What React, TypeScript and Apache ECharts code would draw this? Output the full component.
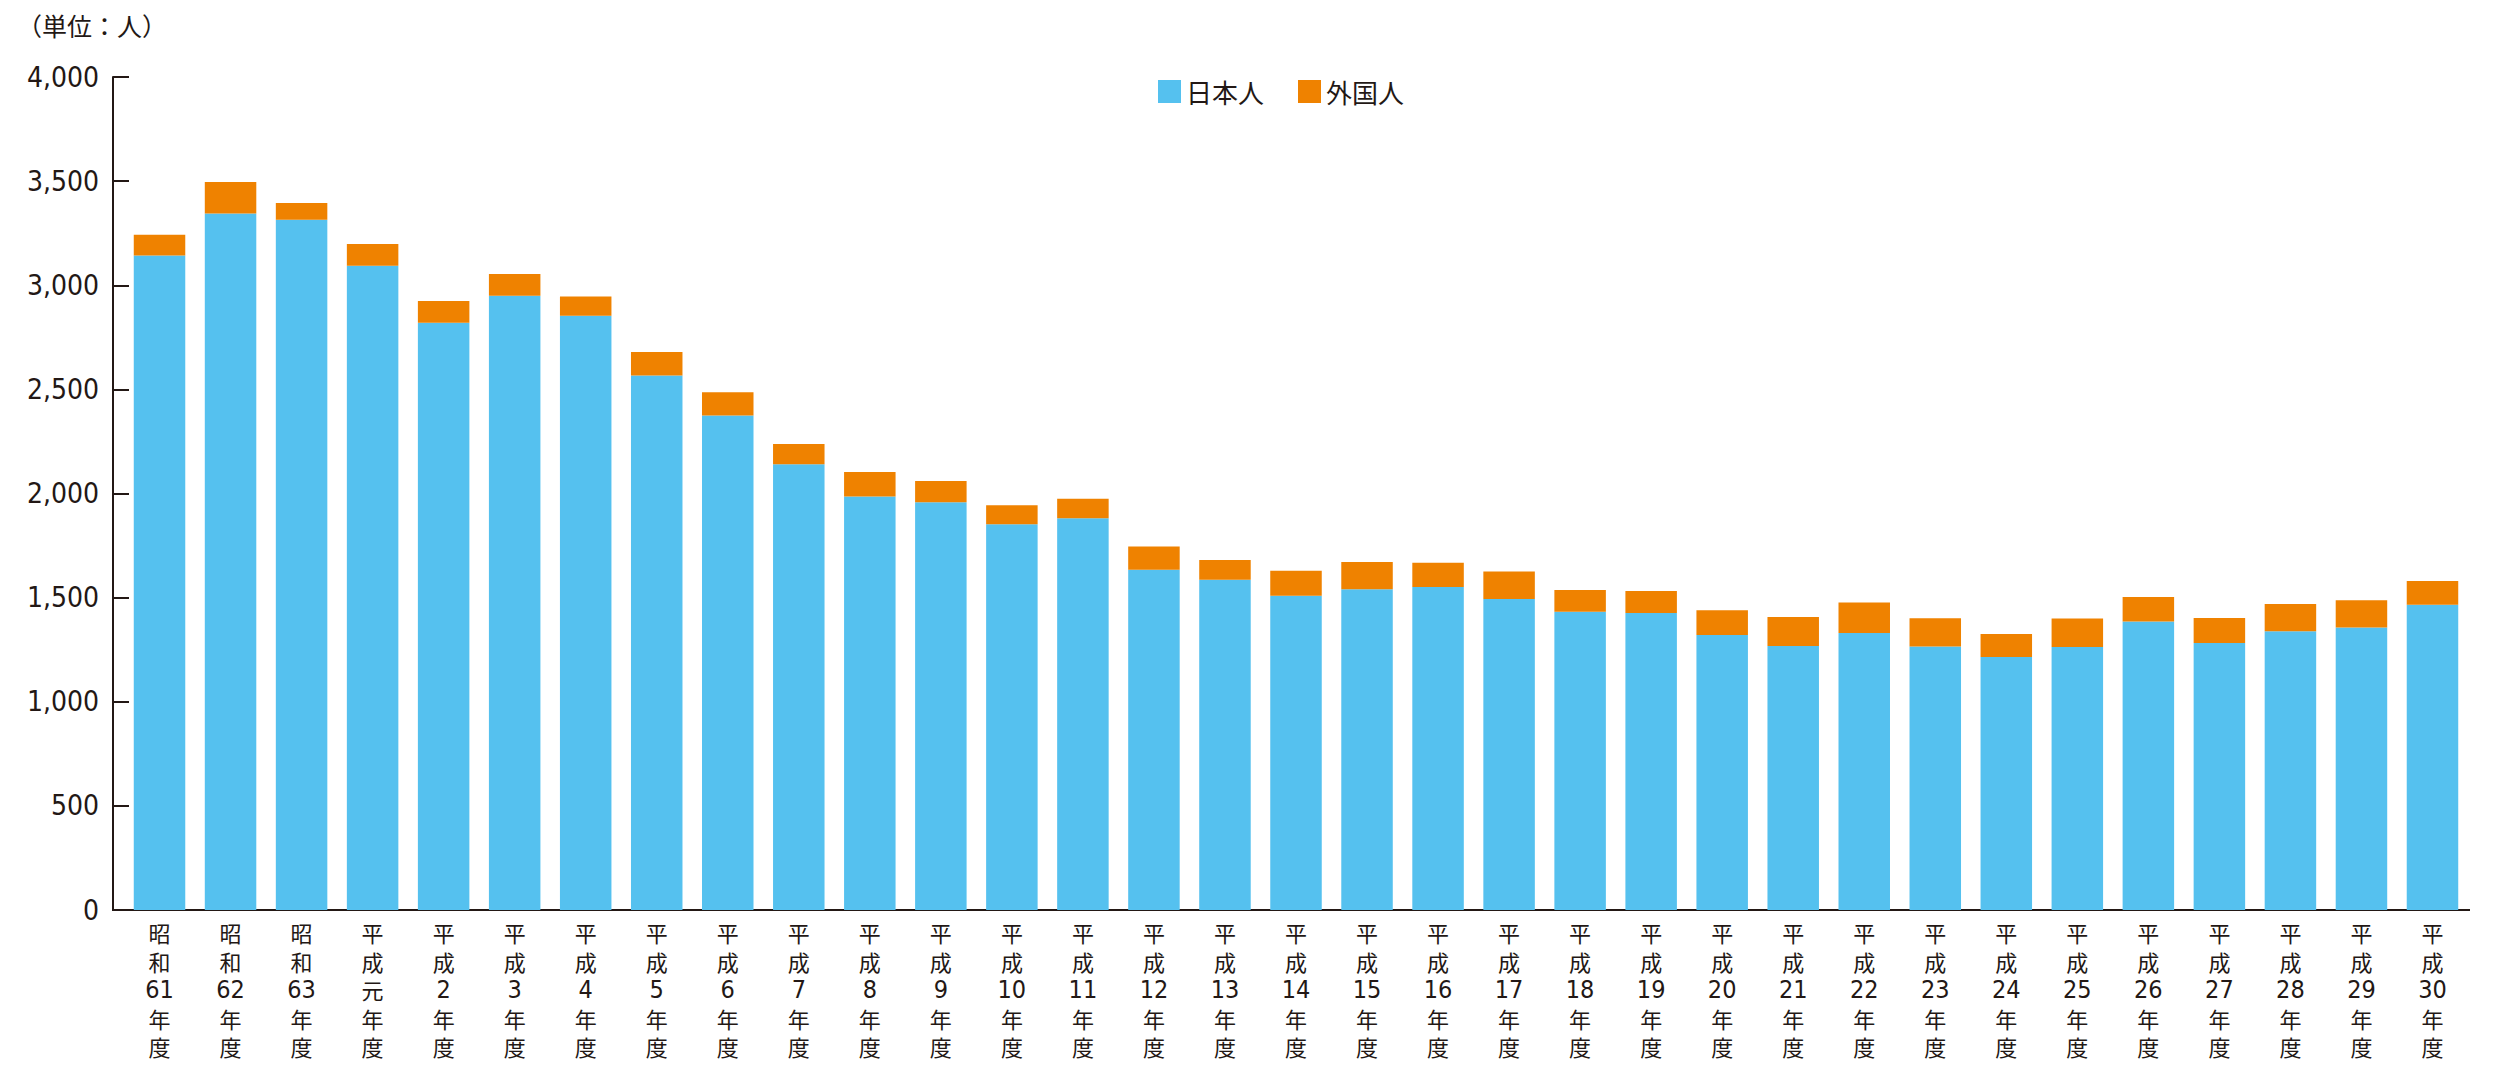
import React, { useEffect, useRef } from "react";
import * as echarts from "echarts";

const categories = [
  "昭和61年度", "昭和62年度", "昭和63年度", "平成元年度", "平成2年度", "平成3年度",
  "平成4年度", "平成5年度", "平成6年度", "平成7年度", "平成8年度", "平成9年度",
  "平成10年度", "平成11年度", "平成12年度", "平成13年度", "平成14年度", "平成15年度",
  "平成16年度", "平成17年度", "平成18年度", "平成19年度", "平成20年度", "平成21年度",
  "平成22年度", "平成23年度", "平成24年度", "平成25年度", "平成26年度", "平成27年度",
  "平成28年度", "平成29年度", "平成30年度",
];

const japanese = [
  3143, 3344, 3315, 3094, 2820, 2950, 2854, 2567, 2374, 2140, 1986, 1958,
  1852, 1881, 1634, 1586, 1509, 1540, 1551, 1493, 1432, 1426, 1321, 1268,
  1330, 1265, 1215, 1263, 1385, 1282, 1338, 1356, 1466,
];

const foreigners = [
  100, 152, 80, 104, 104, 104, 92, 112, 112, 98, 117, 102,
  91, 94, 112, 95, 120, 131, 117, 133, 105, 106, 118, 139,
  147, 136, 110, 137, 118, 120, 131, 131, 114,
];

const seriesNames = ["日本人", "外国人"];
const unitLabel = "（単位：人）";

const TEXT = "#231815";
const BLUE = "#55C1EF";
const ORANGE = "#EF8200";
const CJK = "'Noto Sans CJK JP', 'Noto Sans', sans-serif";
const NARROW = "'Liberation Sans Narrow', 'DejaVu Sans Condensed', 'Noto Sans CJK JP', sans-serif";

export default function App() {
  const ref = useRef<HTMLDivElement>(null);

  useEffect(() => {
    if (!ref.current) return;
    const chart = echarts.init(ref.current, null, { renderer: "svg" });
    chart.setOption({
      animation: false,
      backgroundColor: "#ffffff",
      grid: { left: 124, right: 32, top: 77, bottom: 159, containLabel: false },
      legend: {
        data: seriesNames,
        left: 1158,
        top: 78.5,
        padding: 0,
        itemWidth: 23,
        itemHeight: 23,
        itemGap: 34,
        icon: "rect",
        textStyle: { fontFamily: CJK, fontSize: 26, lineHeight: 26, color: TEXT, padding: [0, 0, 0, 0] },
      },
      graphic: [
        {
          type: "text",
          left: 17,
          top: 12,
          style: { text: unitLabel, font: `25px ${CJK}`, fill: TEXT },
        },
        {
          type: "line",
          shape: { x1: 112, y1: 910, x2: 126, y2: 910 },
          style: { stroke: TEXT, lineWidth: 2 },
        },
        {
          type: "line",
          shape: { x1: 2466, y1: 910, x2: 2470, y2: 910 },
          style: { stroke: TEXT, lineWidth: 2 },
        },
      ],
      xAxis: {
        type: "category",
        data: categories,
        axisLine: { show: true, lineStyle: { color: TEXT, width: 2 } },
        axisTick: { show: false },
        axisLabel: {
          interval: 0,
          margin: 8,
          lineHeight: 28.5,
          color: TEXT,
          formatter: (v: string) =>
            (v.match(/\d+|./g) || [])
              .map((t) => (/\d/.test(t) ? `{d|${t}}` : `{c|${t}}`))
              .join("\n"),
          rich: {
            c: { fontFamily: CJK, fontSize: 22, lineHeight: 28.5, color: TEXT },
            d: { fontFamily: NARROW, fontSize: 25, lineHeight: 28.5, color: TEXT },
          },
        },
      },
      yAxis: {
        type: "value",
        min: 0,
        max: 4000,
        interval: 500,
        offset: 11,
        splitLine: { show: false },
        axisLine: { show: true, lineStyle: { color: TEXT, width: 2 } },
        axisTick: { show: true, inside: true, length: 16, lineStyle: { color: TEXT, width: 2 } },
        axisLabel: {
          margin: 14,
          color: TEXT,
          fontFamily: NARROW,
          fontSize: 28,
          formatter: (v: number) => v.toLocaleString("en-US"),
        },
      },
      series: [
        {
          name: seriesNames[0],
          type: "bar",
          stack: "total",
          barWidth: 51.5,
          data: japanese,
          itemStyle: { color: BLUE },
        },
        {
          name: seriesNames[1],
          type: "bar",
          stack: "total",
          barWidth: 51.5,
          data: foreigners,
          itemStyle: { color: ORANGE },
        },
      ],
    });
    return () => chart.dispose();
  }, []);

  return (
    <div
      ref={ref}
      style={{ position: "fixed", left: 0, top: 0, width: 2500, height: 1069, background: "#fff" }}
    />
  );
}
